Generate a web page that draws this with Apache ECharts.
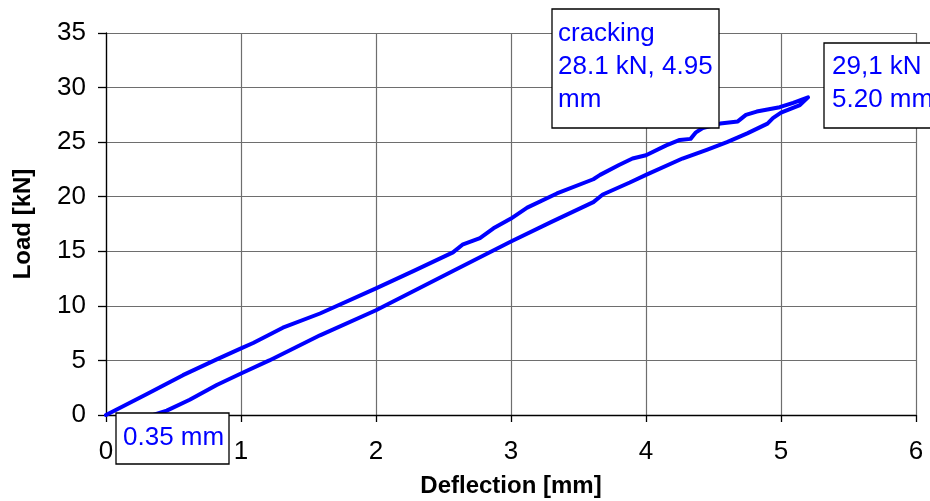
<!DOCTYPE html>
<html>
<head>
<meta charset="utf-8">
<script src="https://cdn.jsdelivr.net/npm/echarts@6/dist/echarts.min.js"></script>
<style>
html,body{margin:0;padding:0;background:#fff;}
#chart{width:930px;height:501px;}
</style>
</head>
<body>
<div id="chart"></div>
<script>
// Loading branch (upper) then unloading branch (lower), deflection in mm
const loadingDeflection = [0, 0.3, 0.57, 0.82, 1.0, 1.09, 1.31, 1.585, 2.0, 2.28, 2.57, 2.64, 2.77, 2.87, 3.0, 3.12, 3.34, 3.61, 3.66, 3.8, 3.9, 4.0, 4.15, 4.25, 4.33, 4.37, 4.42, 4.55, 4.68, 4.74, 4.82, 4.99, 5.09, 5.2];
const loadingLoad       = [0, 1.9, 3.65, 5.1, 6.1, 6.6, 8.0, 9.3, 11.6, 13.2, 14.9, 15.6, 16.2, 17.1, 18.0, 19.0, 20.3, 21.6, 22.0, 22.9, 23.5, 23.8, 24.7, 25.2, 25.3, 25.9, 26.3, 26.7, 26.9, 27.5, 27.8, 28.2, 28.6, 29.1];
const unloadingDeflection = [5.14, 5.0, 4.94, 4.9, 4.75, 4.6, 4.45, 4.27, 4.0, 3.88, 3.68, 3.61, 3.3, 3.0, 2.57, 2.0, 1.585, 1.21, 1.0, 0.82, 0.62, 0.45, 0.35];
const unloadingLoad       = [28.4, 27.7, 27.2, 26.7, 25.8, 25.0, 24.3, 23.5, 22.0, 21.3, 20.2, 19.5, 17.7, 15.9, 13.2, 9.6, 7.3, 5.0, 3.8, 2.75, 1.4, 0.4, 0];

const xTicks = [0, 1, 2, 3, 4, 5, 6];
const yTicks = [0, 5, 10, 15, 20, 25, 30, 35];

const crackLabel = ['cracking', '28.1 kN, 4.95', 'mm'];
const peakLabel = ['29,1 kN', '5.20 mm'];
const residualLabel = ['0.35 mm'];

const deflection = loadingDeflection.concat(unloadingDeflection);
const load = loadingLoad.concat(unloadingLoad);
const seriesData = deflection.map((d, i) => [d, load[i]]);

const FONT = '"Liberation Sans", Arial, sans-serif';
const chart = echarts.init(document.getElementById('chart'), null, {renderer: 'canvas'});

function box(x, y, w, h, lines, tx, ty) {
  return {
    type: 'group',
    z: 100,
    children: [
      {type: 'rect', shape: {x: x, y: y, width: w, height: h},
       style: {fill: '#fff', stroke: '#000', lineWidth: 1.3}, z: 100},
      {type: 'text', x: tx, y: ty, z: 101,
       style: {text: lines.join('\n'), fill: '#0000ff', font: '26px ' + FONT,
               lineHeight: 33, verticalAlign: 'top', align: 'left'}}
    ]
  };
}

chart.setOption({
  animation: false,
  backgroundColor: '#fff',
  grid: {left: 106, right: 14, top: 33, bottom: 86, containLabel: false, outerBoundsMode: 'none'},
  xAxis: {
    type: 'value', min: xTicks[0], max: xTicks[xTicks.length - 1], interval: 1,
    name: 'Deflection [mm]', nameLocation: 'middle', nameGap: 59,
    nameTextStyle: {fontFamily: FONT, fontSize: 24, fontWeight: 'bold', color: '#000'},
    axisLine: {show: true, onZero: false, lineStyle: {color: '#000', width: 1.3}},
    axisTick: {show: true, length: 7, lineStyle: {color: '#000', width: 1.3}},
    axisLabel: {fontFamily: FONT, fontSize: 26, color: '#000', margin: 24},
    splitLine: {show: true, lineStyle: {color: '#6e6e6e', width: 1.2}}
  },
  yAxis: {
    type: 'value', min: yTicks[0], max: yTicks[yTicks.length - 1], interval: 5,
    name: 'Load [kN]', nameLocation: 'middle', nameGap: 71,
    nameTextStyle: {fontFamily: FONT, fontSize: 24, fontWeight: 'bold', color: '#000'},
    axisLine: {show: true, lineStyle: {color: '#000', width: 1.3}},
    axisTick: {show: true, length: 8, lineStyle: {color: '#000', width: 1.3}},
    axisLabel: {fontFamily: FONT, fontSize: 26, color: '#000', margin: 20},
    splitLine: {show: true, lineStyle: {color: '#6e6e6e', width: 1.2}}
  },
  series: [{
    type: 'line',
    data: seriesData,
    showSymbol: false,
    smooth: false,
    lineStyle: {color: '#0000ff', width: 4, join: 'round', cap: 'round'},
    z: 10
  }],
  graphic: [
    box(552, 9, 167, 119, crackLabel, 558, 17),
    box(824, 43, 130, 85, peakLabel, 832, 50),
    box(116, 413, 113, 51, residualLabel, 123, 421)
  ]
});
</script>
</body>
</html>
